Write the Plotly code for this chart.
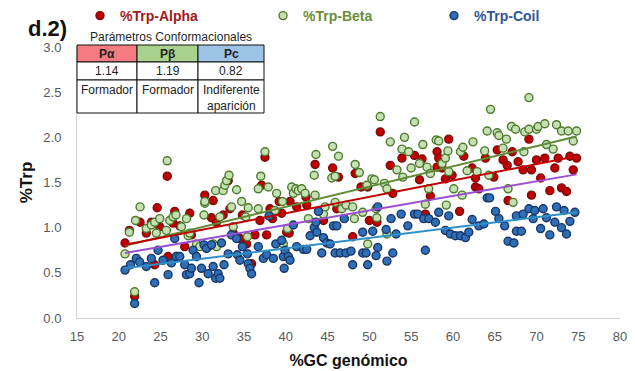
import numpy as np
import plotly.graph_objects as go

# ---------------- data ----------------
alpha_x = [20.75, 21.27, 21.9, 22.55, 23.3, 23.9, 24.3, 24.6, 24.9, 25.8, 25.9, 26.5, 26.7, 27.3, 27.9,
           28.5, 28.7, 30.3, 31.1, 31.3, 31.7, 32.5, 33.1, 33.3, 33.7, 34.5, 34.8, 35.3, 35.9, 36.3,
           36.9, 37.1, 37.5, 37.7, 38.1, 38.4, 39.2, 39.5, 40.1, 40.4, 40.5, 41.3,
           42.4, 42.5, 43.5, 44.5, 45.6, 46.1, 46.3, 48.0, 48.3, 49.0, 49.8, 50.0, 50.9, 51.3, 52.5,
           52.8, 53.9, 55.4, 56.0, 56.3, 56.7, 57.3, 58.1, 58.1, 58.3, 58.7, 59.1, 59.5, 59.9, 60.8,
           61.3, 62.3, 62.7, 62.7, 63.1, 63.9, 64.9, 65.3, 66.0, 66.5, 66.6, 67.1, 67.8, 68.4, 69.1,
           69.4, 69.4, 70.0, 70.5, 71.0, 71.6, 72.2, 72.6, 73.0, 73.6, 74.0, 74.4, 74.8]
alpha_y = [0.83, 0.97, 0.24, 1.06, 0.94, 1.06, 0.59, 1.22, 1.01, 1.57, 0.68, 1.05, 1.18, 1.02, 0.79,
           1.16, 0.92, 1.36, 1.11, 1.30, 1.06, 1.14, 1.52, 1.21, 0.94, 0.88, 1.14, 0.82, 0.60, 0.92,
           1.08, 1.47, 1.78, 0.92, 1.21, 1.10, 1.29, 1.16, 0.95, 0.94, 1.29, 1.23,
           1.34, 1.25, 1.70, 1.08, 1.66, 1.21, 1.56, 0.90, 1.60, 1.45, 1.45, 1.08, 1.06, 2.06, 1.69,
           1.38, 1.77, 1.80, 1.53, 1.76, 1.15, 1.35, 1.84, 1.67, 1.77, 1.66, 1.54, 1.98, 1.58, 1.18,
           1.79, 1.66, 1.45, 1.55, 1.43, 1.77, 1.56, 1.86, 1.75, 1.69, 1.30, 1.84, 1.73, 1.64, 1.98,
           1.64, 1.36, 1.75, 1.55, 1.77, 1.41, 1.66, 1.77, 1.44, 1.40, 1.79, 1.64, 1.77]

beta_x = [20.75, 21.27, 21.9, 22.0, 22.55, 23.3, 23.9, 24.3, 24.5, 24.9, 25.7, 25.8, 26.1, 26.5, 26.85,
          26.9, 27.5, 28.1, 28.3, 28.5, 29.3, 29.7, 30.2, 30.3, 30.3, 30.7, 31.3, 31.6, 31.7, 32.1,
          32.5, 32.7, 32.9, 33.2, 33.5, 33.7, 34.1, 34.7, 35.2, 35.4, 35.5, 36.7, 36.7, 37.0, 37.5,
          37.9, 38.7, 38.9, 39.6, 39.7, 40.2, 40.7, 40.9, 41.2, 41.5,
          41.9, 42.3, 42.7, 43.4, 43.5, 43.6, 44.5, 44.7, 45.5, 45.6, 45.9, 45.9, 46.3, 46.7, 47.2,
          48.0, 48.2, 48.3, 48.8, 49.2, 49.7, 49.8, 50.3, 50.6, 50.8, 50.9, 51.3, 51.8, 52.1, 52.1,
          52.5, 53.3, 53.9, 54.0, 54.2, 54.7, 55.0, 55.4, 56.0, 56.4, 56.7, 56.9, 57.1, 57.3, 58.0,
          58.3, 58.7, 59.1, 59.2, 59.4, 59.5, 60.1, 60.9, 61.1, 61.2, 61.7, 62.4, 62.9, 63.8, 64.1,
          64.3, 64.5, 65.3, 65.5, 66.0, 66.4, 66.6, 67.0, 67.2, 67.5, 68.5, 68.6, 69.1, 69.1, 70.0,
          70.2, 71.0, 71.2, 72.0, 72.4, 73.0, 73.8, 74.4, 74.8]
beta_y = [0.71, 0.95, 0.29, 1.08, 1.23, 0.99, 1.03, 1.06, 0.94, 1.10, 0.97, 1.74, 1.08, 1.12, 1.14,
          0.68, 1.01, 1.10, 0.91, 0.94, 0.82, 0.79, 1.14, 1.27, 1.29, 0.79, 0.82, 1.41, 0.79, 1.12,
          1.41, 1.47, 1.52, 1.58, 1.23, 1.01, 1.42, 1.29, 1.12, 0.90, 1.22, 1.43, 1.21, 1.57, 1.84,
          1.45, 1.19, 1.38, 1.29, 0.82, 0.99, 1.45, 1.38, 1.43, 1.41,
          1.43, 1.38, 1.10, 1.58, 1.36, 1.81, 1.15, 1.23, 1.55, 1.90, 1.57, 1.28, 1.79, 1.21, 1.25,
          1.23, 1.10, 1.70, 1.61, 1.17, 1.47, 0.82, 1.54, 1.53, 1.21, 1.11, 2.23, 1.49, 1.43, 0.93,
          1.95, 1.64, 1.87, 1.56, 2.00, 1.84, 1.66, 2.17, 1.71, 1.92, 1.26, 1.67, 1.43, 1.60, 1.97,
          1.96, 1.71, 1.77, 1.25, 1.85, 1.62, 1.43, 1.84, 1.36, 1.89, 1.63, 1.95, 1.62, 1.85, 2.07,
          1.58, 2.31, 2.05, 2.02, 1.88, 1.98, 1.43, 2.12, 1.28, 2.09, 1.84, 2.06, 2.44, 2.09, 2.09,
          2.12, 2.15, 1.92, 1.87, 2.14, 2.07, 2.07, 1.96, 2.07]

coil_x = [20.75, 21.4, 21.9, 22.1, 22.5, 23.3, 23.9, 24.3, 24.7, 25.3, 25.9, 26.3, 26.7, 26.9, 27.3,
          27.9, 28.1, 28.5, 28.7, 28.9, 29.3, 29.6, 29.9, 30.2, 30.5, 30.7, 31.1, 31.3, 31.6, 31.9,
          32.1, 32.3, 32.6, 33.1, 33.5, 34.1, 34.2, 34.5, 34.8, 35.4, 35.5, 35.7, 35.9, 36.7, 37.3,
          37.7, 38.0, 38.5, 38.8, 39.5, 39.7, 39.8, 39.9, 40.3, 40.5, 40.9, 41.3,
          42.1, 42.5, 42.9, 43.4, 43.6, 43.7, 43.9, 44.3, 44.5, 44.9, 45.3, 45.7, 45.9, 46.1, 46.5,
          47.0, 47.2, 47.8, 48.0, 49.2, 49.2, 49.6, 49.8, 50.4, 50.8, 51.0, 51.0, 52.0, 52.1, 52.6,
          52.8, 53.2, 53.8, 54.6, 55.4, 55.8, 56.5, 56.7, 57.1, 57.9, 58.3, 59.1, 59.5, 59.7, 60.3,
          60.9, 61.5, 61.9, 62.3, 63.1, 63.7, 64.1, 64.4, 65.1, 65.5, 66.2, 66.6, 67.3, 67.6, 67.6,
          68.2, 68.4, 69.1, 69.6, 69.8, 70.5, 70.8, 71.2, 71.6, 72.2, 72.4, 73.0, 73.3, 73.6, 74.0,
          74.6]
coil_y = [0.53, 0.59, 0.16, 0.66, 0.62, 0.57, 0.66, 0.39, 0.75, 0.64, 0.48, 0.61, 0.88, 0.68, 0.68,
          0.59, 0.48, 0.49, 0.55, 0.75, 0.68, 0.39, 0.55, 0.81, 0.77, 0.49, 0.81, 0.57, 0.44, 0.49,
          0.44, 0.83, 0.59, 0.71, 0.92, 0.88, 0.70, 0.64, 0.79, 0.71, 0.60, 0.55, 0.49, 0.79, 0.66,
          0.70, 1.13, 0.66, 0.82, 0.86, 0.68, 0.55, 0.75, 0.68, 0.64, 1.03, 0.79,
          0.76, 0.76, 0.91, 1.00, 1.06, 0.95, 1.18, 0.72, 0.89, 0.83, 0.82, 1.02, 0.72, 1.02, 0.72,
          1.10, 0.72, 0.74, 0.59, 0.72, 0.95, 0.72, 0.59, 0.96, 0.69, 0.78, 1.23, 0.98, 0.63, 1.10,
          0.72, 0.93, 1.15, 1.02, 1.15, 1.15, 1.10, 0.75, 1.10, 1.06, 1.17, 0.97, 1.13, 0.93, 0.91,
          0.91, 0.89, 0.95, 1.09, 1.02, 1.04, 1.33, 1.33, 1.18, 1.10, 1.02, 0.85, 0.83, 0.96, 1.13,
          0.96, 1.15, 1.21, 1.10, 1.19, 0.99, 1.21, 1.11, 0.92, 1.06, 1.23, 1.00, 1.19, 0.93, 1.07,
          1.17]

# linear trend lines as drawn in the reference (value at the start / end GC)
trend_x = [20.75, 74.8]
trend_alpha = [0.81, 1.79]
trend_beta = [0.80, 2.01]
trend_mean = [0.72, 1.59]
trend_coil = [0.55, 1.17]

series_names = ["%Trp-Alpha", "%Trp-Beta", "%Trp-Coil"]

table_title = "Parámetros Conformacionales"
table_header = ["Pα", "Pβ", "Pc"]
table_values = ["1.14", "1.19", "0.82"]
table_roles = ["Formador", "Formador", "Indiferente<br>aparición"]

x_ticks = list(range(15, 81, 5))
y_ticks = [0.0, 0.5, 1.0, 1.5, 2.0, 2.5, 3.0]

# ---------------- styling ----------------
FONT = "Arial, Liberation Sans, sans-serif"
red_fill, red_line, red_trend, red_text = "#c00000", "#7a0c0c", "#c00000", "#a01820"
grn_fill, grn_line, grn_trend, grn_text = "#c5e0b4", "#4e7a2c", "#5f8a36", "#6b8e3a"
blu_fill, blu_line, blu_trend, blu_text = "#2e6fb8", "#1a3766", "#2f8fc8", "#2f5597"
purple = "#9b4fd0"

# plot area in pixels
W, H = 635, 371
L, R, T, B = 77, 15, 47, 53
pw, ph = W - L - R, H - T - B


def px2x(p):
    return (p - L) / pw


def py2y(p):
    return (H - B - p) / ph


fig = go.Figure()

def add_series(xs, ys, name, fill, edge, legend):
    fig.add_trace(go.Scatter(
        x=xs, y=ys, mode="markers", name=name, legend=legend,
        marker=dict(size=8, color=fill, line=dict(color=edge, width=1.4)),
    ))

add_series(alpha_x, alpha_y, series_names[0], red_fill, red_line, "legend")
add_series(beta_x, beta_y, series_names[1], grn_fill, grn_line, "legend2")
add_series(coil_x, coil_y, series_names[2], blu_fill, blu_line, "legend3")

def add_trend(ys, color):
    fig.add_trace(go.Scatter(x=trend_x, y=ys, mode="lines", showlegend=False,
                             line=dict(color=color, width=2), hoverinfo="skip"))

add_trend(trend_beta, grn_trend)
add_trend(trend_alpha, red_trend)
add_trend(trend_mean, purple)
add_trend(trend_coil, blu_trend)

# ---------------- axes ----------------
fig.update_xaxes(range=[15, 80], tickvals=x_ticks, showgrid=False, zeroline=False,
                 showline=True, linecolor="#d0d0d0", linewidth=1, ticks="",
                 ticklabelstandoff=6, automargin=False,
                 tickfont=dict(family=FONT, size=13, color="#595959"),
                 title=dict(text="<b>%GC genómico</b>", standoff=12,
                            font=dict(family=FONT, size=16, color="#111111")))
fig.update_yaxes(range=[0, 3], tickvals=y_ticks, tickformat=".1f", showgrid=False,
                 zeroline=False, showline=True, linecolor="#d0d0d0", linewidth=1, ticks="",
                 ticklabelstandoff=12, automargin=False,
                 tickfont=dict(family=FONT, size=13, color="#595959"),
                 title=dict(text="<b>%Trp</b>", standoff=6,
                            font=dict(family=FONT, size=17, color="#111111")))

legend_common = dict(orientation="h", yanchor="middle", xanchor="left",
                     yref="container", y=1 - 16 / H,
                     bgcolor="rgba(0,0,0,0)", itemsizing="trace")
fig.update_layout(
    width=W, height=H,
    margin=dict(l=L, r=R, t=T, b=B, autoexpand=False),
    paper_bgcolor="white", plot_bgcolor="white",
    font=dict(family=FONT),
    legend=dict(x=px2x(80), font=dict(family=FONT, size=14, color=red_text, weight="bold"),
                **legend_common),
    legend2=dict(x=px2x(263), font=dict(family=FONT, size=14, color=grn_text, weight="bold"),
                 **legend_common),
    legend3=dict(x=px2x(434), font=dict(family=FONT, size=14, color=blu_text, weight="bold"),
                 **legend_common),
)

# ---------------- panel label ----------------
fig.add_annotation(text="<b>d.2)</b>", xref="paper", yref="paper", x=px2x(47), y=py2y(28),
                   xanchor="center", yanchor="middle",
                   showarrow=False, font=dict(family=FONT, size=22, color="#111111"))

# ---------------- inset table ----------------
col_px = [77, 137, 198, 264]
row_px = [45, 62, 80, 113]
header_fills = ["#f47c80", "#a9d18e", "#9dc3e6"]

fig.add_annotation(text=table_title, xref="paper", yref="paper",
                   x=px2x((col_px[0] + col_px[-1]) / 2), y=py2y(37),
                   xanchor="center", yanchor="middle", showarrow=False,
                   font=dict(family=FONT, size=12, color="#262626"))
for i in range(3):
    x0, x1 = px2x(col_px[i]), px2x(col_px[i + 1])
    fig.add_shape(type="rect", xref="paper", yref="paper", x0=x0, x1=x1,
                  y0=py2y(row_px[1]), y1=py2y(row_px[0]), fillcolor=header_fills[i],
                  line=dict(color="#111111", width=1), layer="above")
    for r in (1, 2):
        fig.add_shape(type="rect", xref="paper", yref="paper", x0=x0, x1=x1,
                      y0=py2y(row_px[r + 1]), y1=py2y(row_px[r]), fillcolor="white",
                      line=dict(color="#111111", width=1), layer="above")
    xc = (x0 + x1) / 2
    fig.add_annotation(text="<b>" + table_header[i] + "</b>", xref="paper", yref="paper",
                       x=xc, y=py2y((row_px[0] + row_px[1]) / 2),
                       xanchor="center", yanchor="middle", showarrow=False,
                       font=dict(family=FONT, size=12, color="#222222"))
    fig.add_annotation(text=table_values[i], xref="paper", yref="paper",
                       x=xc, y=py2y((row_px[1] + row_px[2]) / 2),
                       xanchor="center", yanchor="middle", showarrow=False,
                       font=dict(family=FONT, size=12, color="#222222"))
    fig.add_annotation(text=table_roles[i], xref="paper", yref="paper",
                       x=xc, y=py2y(row_px[2] + 1), xanchor="center", yanchor="top",
                       showarrow=False, font=dict(family=FONT, size=12, color="#222222"))

fig.write_html("out.html")
